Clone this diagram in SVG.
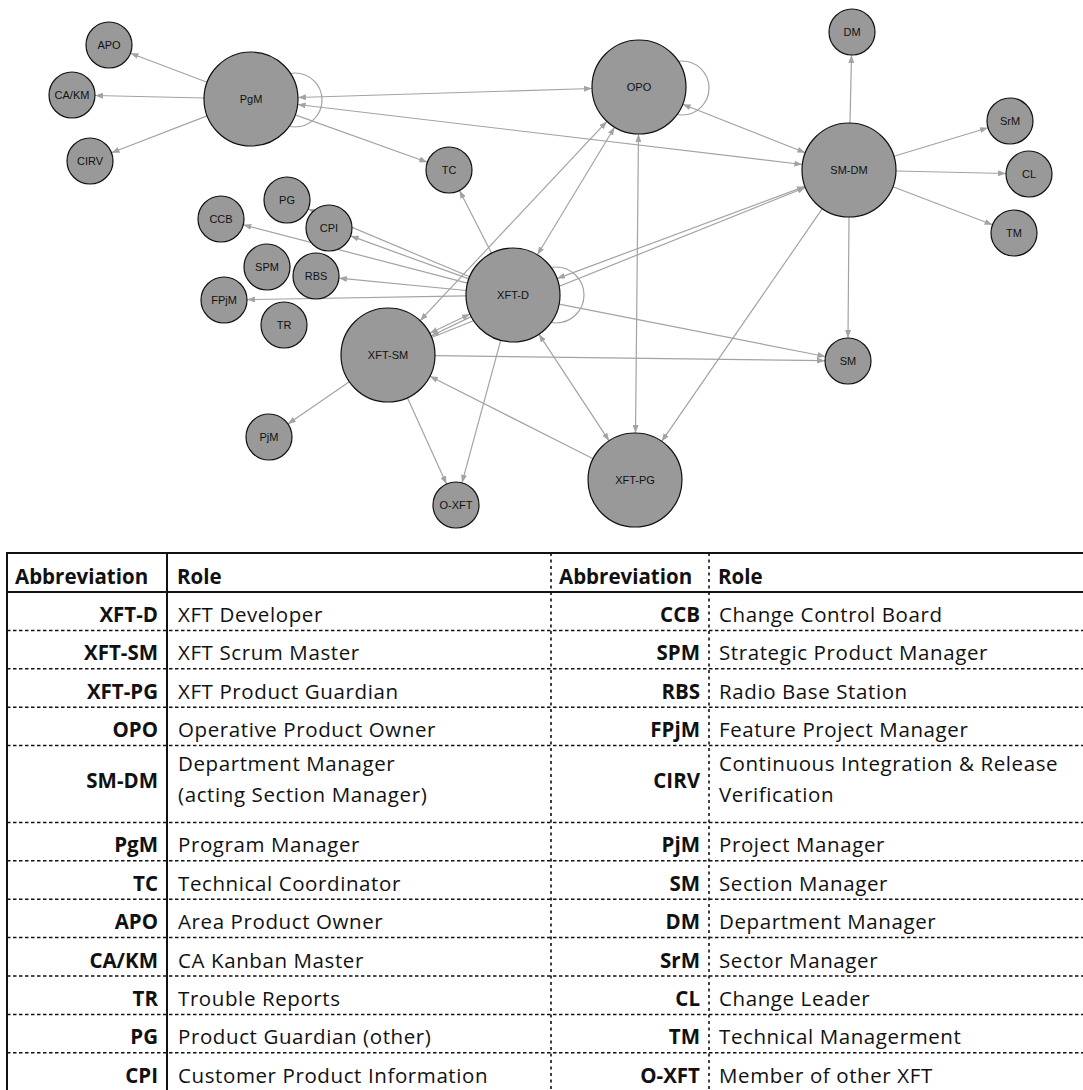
<svg xmlns="http://www.w3.org/2000/svg" width="1083" height="1090" viewBox="0 0 1083 1090">
  <style>
    .lk line, .lk circle { stroke: #a3a3a3; stroke-width: 1.2; fill: none; }
    .e { marker-end: url(#ah); }
    .b { marker-start: url(#ah); marker-end: url(#ah); }
    .node circle { fill: #999999; stroke: #111111; stroke-width: 1.2; }
    .node text { font-family: "Liberation Sans", Arial, sans-serif; font-size: 11px; text-anchor: middle; fill: #111111; }
    .grid .solid { stroke: #111111; stroke-width: 2; fill: none; }
    .grid .dash { stroke: #111111; stroke-width: 1.5; stroke-dasharray: 3.5 2.5; fill: none; }
    .grid .vdash { stroke: #111111; stroke-width: 1.6; stroke-dasharray: 3 3.5; fill: none; }
    .hd { font-family: "Open Sans", "Liberation Sans", sans-serif; font-size: 20.5px; font-weight: 700; fill: #111111; }
    .ab { font-family: "Open Sans", "Liberation Sans", sans-serif; font-size: 20.5px; font-weight: 700; fill: #111111; text-anchor: end; }
    .rl { font-family: "Open Sans", "Liberation Sans", sans-serif; font-size: 20.5px; font-weight: 400; fill: #111111; letter-spacing: 0.6px; }
  </style>
  <defs>
    <marker id="ah" viewBox="0 0 8 6" refX="8" refY="3" markerWidth="8" markerHeight="6" markerUnits="userSpaceOnUse" orient="auto-start-reverse">
      <path d="M0,0 L8,3 L0,6 Z" fill="#a3a3a3"/>
    </marker>
  </defs>

  <rect width="1083" height="1090" fill="#ffffff"/>

  <!-- connectors (drawn beneath the nodes) -->
  <g id="links" class="lk">
    <circle cx="295" cy="100" r="27"/>
    <circle cx="682" cy="88" r="27"/>
    <circle cx="556" cy="295" r="28"/>
    <line class="e" x1="207.1" y1="82.3" x2="130.5" y2="53.2"/>
    <line class="e" x1="204" y1="98" x2="95" y2="95.5"/>
    <line class="e" x1="207.1" y1="115.9" x2="111.5" y2="152.7"/>
    <line class="e" x1="295.2" y1="114.9" x2="427.3" y2="162.2"/>
    <line class="b" x1="298" y1="97.5" x2="592" y2="88.5"/>
    <line class="b" x1="297.7" y1="104.5" x2="802.3" y2="164.5"/>
    <line class="b" x1="682.7" y1="104.3" x2="805.3" y2="152.7"/>
    <line class="b" x1="537.4" y1="254.8" x2="614.6" y2="127.2"/>
    <line class="b" x1="420.1" y1="320.7" x2="606.9" y2="121.3"/>
    <line class="b" x1="638.5" y1="134" x2="635.5" y2="433"/>
    <line class="e" x1="850" y1="123" x2="851.5" y2="55"/>
    <line class="e" x1="894" y1="156.3" x2="988" y2="127.7"/>
    <line class="e" x1="896" y1="171" x2="1006" y2="173.5"/>
    <line class="e" x1="892.9" y1="186.8" x2="992.5" y2="224.8"/>
    <line class="e" x1="849" y1="217" x2="848" y2="338"/>
    <line class="e" x1="822.3" y1="208.7" x2="661.7" y2="441.3"/>
    <line class="b" x1="557" y1="278.6" x2="805" y2="186.4"/>
    <line class="e" x1="431.6" y1="337.5" x2="805.4" y2="187.5"/>
    <line class="e" x1="559.1" y1="304.1" x2="825.4" y2="356.5"/>
    <line class="e" x1="435" y1="355.6" x2="825" y2="360.7"/>
    <line class="e" x1="491.6" y1="253.2" x2="459.5" y2="190.5"/>
    <line class="e" x1="467.5" y1="283.2" x2="243.3" y2="224.8"/>
    <line class="e" x1="469.7" y1="276.8" x2="308.2" y2="208.9"/>
    <line class="e" x1="468.8" y1="278.9" x2="350.6" y2="235.9"/>
    <line class="e" x1="466.2" y1="290.5" x2="338.9" y2="278.2"/>
    <line class="e" x1="466" y1="295.8" x2="247" y2="299.6"/>
    <line class="e" x1="500.7" y1="340.4" x2="462" y2="482.8"/>
    <line class="e" x1="407.4" y1="397.8" x2="446.5" y2="484.1"/>
    <line class="e" x1="349.3" y1="381.7" x2="287.9" y2="424"/>
    <line class="e" x1="593.1" y1="458.8" x2="429.9" y2="376.2"/>
    <line class="b" x1="538.9" y1="334.2" x2="609.1" y2="440.8"/>
    <line class="b" x1="429.8" y1="333.3" x2="470" y2="314"/>
    <line class="e" x1="471.2" y1="316.6" x2="431" y2="336"/>
  </g>

  <!-- role nodes -->
  <g id="n-APO" class="node"><circle cx="109" cy="45" r="23"/><text x="109" y="49">APO</text></g>
  <g id="n-CAKM" class="node"><circle cx="72" cy="95" r="23"/><text x="72" y="99">CA/KM</text></g>
  <g id="n-CIRV" class="node"><circle cx="90" cy="161" r="23"/><text x="90" y="165">CIRV</text></g>
  <g id="n-PgM" class="node"><circle cx="251" cy="99" r="47"/><text x="251" y="103">PgM</text></g>
  <g id="n-PG" class="node"><circle cx="287" cy="200" r="23"/><text x="287" y="204">PG</text></g>
  <g id="n-CCB" class="node"><circle cx="221" cy="219" r="23"/><text x="221" y="223">CCB</text></g>
  <g id="n-CPI" class="node"><circle cx="329" cy="228" r="23"/><text x="329" y="232">CPI</text></g>
  <g id="n-OPO" class="node"><circle cx="639" cy="87" r="47"/><text x="639" y="91">OPO</text></g>
  <g id="n-TC" class="node"><circle cx="449" cy="170" r="23"/><text x="449" y="174">TC</text></g>
  <g id="n-DM" class="node"><circle cx="852" cy="32" r="23"/><text x="852" y="36">DM</text></g>
  <g id="n-SrM" class="node"><circle cx="1010" cy="121" r="23"/><text x="1010" y="125">SrM</text></g>
  <g id="n-CL" class="node"><circle cx="1029" cy="174" r="23"/><text x="1029" y="178">CL</text></g>
  <g id="n-TM" class="node"><circle cx="1014" cy="233" r="23"/><text x="1014" y="237">TM</text></g>
  <g id="n-SMDM" class="node"><circle cx="849" cy="170" r="47"/><text x="849" y="174">SM-DM</text></g>
  <g id="n-SPM" class="node"><circle cx="267" cy="267" r="23"/><text x="267" y="271">SPM</text></g>
  <g id="n-RBS" class="node"><circle cx="316" cy="276" r="23"/><text x="316" y="280">RBS</text></g>
  <g id="n-FPjM" class="node"><circle cx="224" cy="300" r="23"/><text x="224" y="304">FPjM</text></g>
  <g id="n-TR" class="node"><circle cx="284" cy="325" r="23"/><text x="284" y="329">TR</text></g>
  <g id="n-XFTD" class="node"><circle cx="513" cy="295" r="47"/><text x="513" y="299">XFT-D</text></g>
  <g id="n-XFTSM" class="node"><circle cx="388" cy="355" r="47"/><text x="388" y="359">XFT-SM</text></g>
  <g id="n-PjM" class="node"><circle cx="269" cy="437" r="23"/><text x="269" y="441">PjM</text></g>
  <g id="n-OXFT" class="node"><circle cx="456" cy="505" r="23"/><text x="456" y="509">O-XFT</text></g>
  <g id="n-XFTPG" class="node"><circle cx="635" cy="480" r="47"/><text x="635" y="484">XFT-PG</text></g>
  <g id="n-SM" class="node"><circle cx="848" cy="361" r="23"/><text x="848" y="365">SM</text></g>

  <!-- abbreviation legend -->
  <g id="legend">
    <g class="grid">
      <line class="dash" x1="7" y1="630.4" x2="1083" y2="630.4"/>
      <line class="dash" x1="7" y1="668.8" x2="1083" y2="668.8"/>
      <line class="dash" x1="7" y1="707.2" x2="1083" y2="707.2"/>
      <line class="dash" x1="7" y1="745.6" x2="1083" y2="745.6"/>
      <line class="dash" x1="7" y1="822.4" x2="1083" y2="822.4"/>
      <line class="dash" x1="7" y1="860.8" x2="1083" y2="860.8"/>
      <line class="dash" x1="7" y1="899.2" x2="1083" y2="899.2"/>
      <line class="dash" x1="7" y1="937.6" x2="1083" y2="937.6"/>
      <line class="dash" x1="7" y1="976" x2="1083" y2="976"/>
      <line class="dash" x1="7" y1="1014.4" x2="1083" y2="1014.4"/>
      <line class="dash" x1="7" y1="1052.8" x2="1083" y2="1052.8"/>
      <line class="vdash" x1="551" y1="553" x2="551" y2="1090"/>
      <line class="vdash" x1="709" y1="553" x2="709" y2="1090"/>
      <line class="solid" x1="7" y1="553" x2="1083" y2="553"/>
      <line class="solid" x1="7" y1="592" x2="1083" y2="592"/>
      <line class="solid" x1="7" y1="552" x2="7" y2="1090"/>
      <line class="solid" x1="167" y1="553" x2="167" y2="1090"/>
    </g>

    <text class="hd" x="15" y="584">Abbreviation</text>
    <text class="hd" x="177" y="584">Role</text>
    <text class="hd" x="559" y="584">Abbreviation</text>
    <text class="hd" x="718" y="584">Role</text>

    <text class="ab" x="158" y="622">XFT-D</text><text class="rl" x="178" y="622">XFT Developer</text>
    <text class="ab" x="158" y="660.4">XFT-SM</text><text class="rl" x="178" y="660.4">XFT Scrum Master</text>
    <text class="ab" x="158" y="698.8">XFT-PG</text><text class="rl" x="178" y="698.8">XFT Product Guardian</text>
    <text class="ab" x="158" y="737.2">OPO</text><text class="rl" x="178" y="737.2">Operative Product Owner</text>
    <text class="ab" x="158" y="788">SM-DM</text><text class="rl" x="178" y="771">Department Manager</text><text class="rl" x="178" y="802">(acting Section Manager)</text>
    <text class="ab" x="158" y="852.4">PgM</text><text class="rl" x="178" y="852.4">Program Manager</text>
    <text class="ab" x="158" y="890.8">TC</text><text class="rl" x="178" y="890.8">Technical Coordinator</text>
    <text class="ab" x="158" y="929.2">APO</text><text class="rl" x="178" y="929.2">Area Product Owner</text>
    <text class="ab" x="158" y="967.6">CA/KM</text><text class="rl" x="178" y="967.6">CA Kanban Master</text>
    <text class="ab" x="158" y="1006">TR</text><text class="rl" x="178" y="1006">Trouble Reports</text>
    <text class="ab" x="158" y="1044.4">PG</text><text class="rl" x="178" y="1044.4">Product Guardian (other)</text>
    <text class="ab" x="158" y="1082.8">CPI</text><text class="rl" x="178" y="1082.8">Customer Product Information</text>

    <text class="ab" x="700" y="622">CCB</text><text class="rl" x="719" y="622">Change Control Board</text>
    <text class="ab" x="700" y="660.4">SPM</text><text class="rl" x="719" y="660.4">Strategic Product Manager</text>
    <text class="ab" x="700" y="698.8">RBS</text><text class="rl" x="719" y="698.8">Radio Base Station</text>
    <text class="ab" x="700" y="737.2">FPjM</text><text class="rl" x="719" y="737.2">Feature Project Manager</text>
    <text class="ab" x="700" y="788">CIRV</text><text class="rl" x="719" y="771">Continuous Integration &amp; Release</text><text class="rl" x="719" y="802">Verification</text>
    <text class="ab" x="700" y="852.4">PjM</text><text class="rl" x="719" y="852.4">Project Manager</text>
    <text class="ab" x="700" y="890.8">SM</text><text class="rl" x="719" y="890.8">Section Manager</text>
    <text class="ab" x="700" y="929.2">DM</text><text class="rl" x="719" y="929.2">Department Manager</text>
    <text class="ab" x="700" y="967.6">SrM</text><text class="rl" x="719" y="967.6">Sector Manager</text>
    <text class="ab" x="700" y="1006">CL</text><text class="rl" x="719" y="1006">Change Leader</text>
    <text class="ab" x="700" y="1044.4">TM</text><text class="rl" x="719" y="1044.4">Technical Managerment</text>
    <text class="ab" x="700" y="1082.8">O-XFT</text><text class="rl" x="719" y="1082.8">Member of other XFT</text>
  </g>
</svg>
